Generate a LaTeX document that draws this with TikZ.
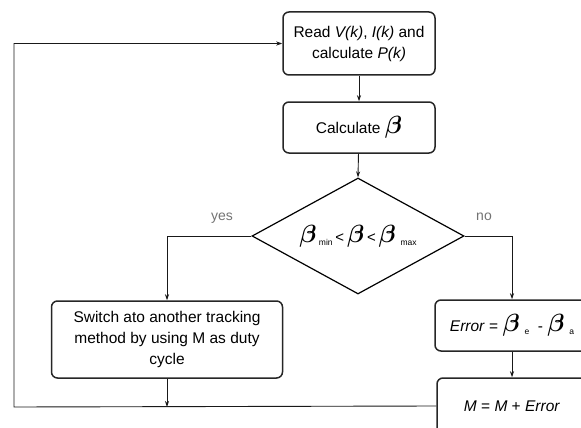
\documentclass[tikz,border=0pt]{standalone}
\usepackage{amsmath}
\usepackage{fontspec}
\setmainfont{Liberation Sans}
\usetikzlibrary{shapes.geometric,arrows.meta}
\newcommand{\bb}{{\fontsize{23}{23}\selectfont$\boldsymbol{\beta}$}}
\newcommand{\sbs}[1]{\raisebox{-3pt}{\fontsize{8.5}{8.5}\selectfont #1}}
\newcommand{\lt}{{\fontsize{15}{15}\selectfont<}}
\begin{document}
\begin{tikzpicture}[x=1pt,y=-1pt,
  box/.style={draw=black!85,line width=1.5pt,rounded corners=6pt,fill=white,align=center,
    font=\fontsize{15.5}{21}\selectfont,inner sep=2pt},
  dia/.style={draw=black,line width=1.2pt,diamond,aspect=1.82,inner sep=0pt,fill=white},
  conn/.style={draw=black!90,line width=0.9pt},
  arr/.style={conn,-{Stealth[length=6pt,width=4pt]}},
  lbl/.style={text=black!55,font=\fontsize{14}{14}\selectfont}]
\useasboundingbox (0,0) rectangle (581,428);
\node[box,minimum width=152pt,minimum height=63pt] (read) at (359,43.5)
  {Read \textit{V(k)}, \textit{I(k)} and\\calculate \textit{P(k)}};
\node[box,minimum width=152pt,minimum height=51pt] (calc) at (359,127.5)
  {Calculate \bb};
\node[dia,minimum width=212pt,minimum height=116pt] (dec) at (358,236) {};
\node at (358,236) {\bb\sbs{\ min}\ \lt\ \bb\ \lt\ \bb\sbs{\ \ max}};
\node[box,minimum width=231pt,minimum height=77pt] (sw) at (167,339.5)
  {Switch ato another tracking\\method by using M as duty\\cycle};
\node[box,minimum width=154pt,minimum height=51pt] (err) at (512,325.5)
  {\textit{Error} = \bb\sbs{\ \ e}\ \ - \bb\sbs{\ \ a}};
\node[box,minimum width=150pt,minimum height=56pt] (m) at (512,406)
  {\textit{M} = \textit{M} + \textit{Error}};
\coordinate (yc) at (167,236);
\coordinate (nc) at (512,236);
\coordinate (bl) at (14,407);
\coordinate (tl) at (14,43.5);
\coordinate (sj) at (167,407);
\draw[arr] (read) -- (calc);
\draw[arr] (calc) -- (dec.north);
\draw[arr] (dec.west) -- (yc) -- (sw.north);
\draw[arr] (dec.east) -- (nc) -- (err.north);
\draw[arr] (err) -- (m);
\draw[arr] (sw.south) -- (sj);
\draw[arr] (m.west) -- (bl) -- (tl) -- (read.west);
\node[lbl] at (222,218) {yes};
\node[lbl] at (484,217) {no};
\end{tikzpicture}
\end{document}
